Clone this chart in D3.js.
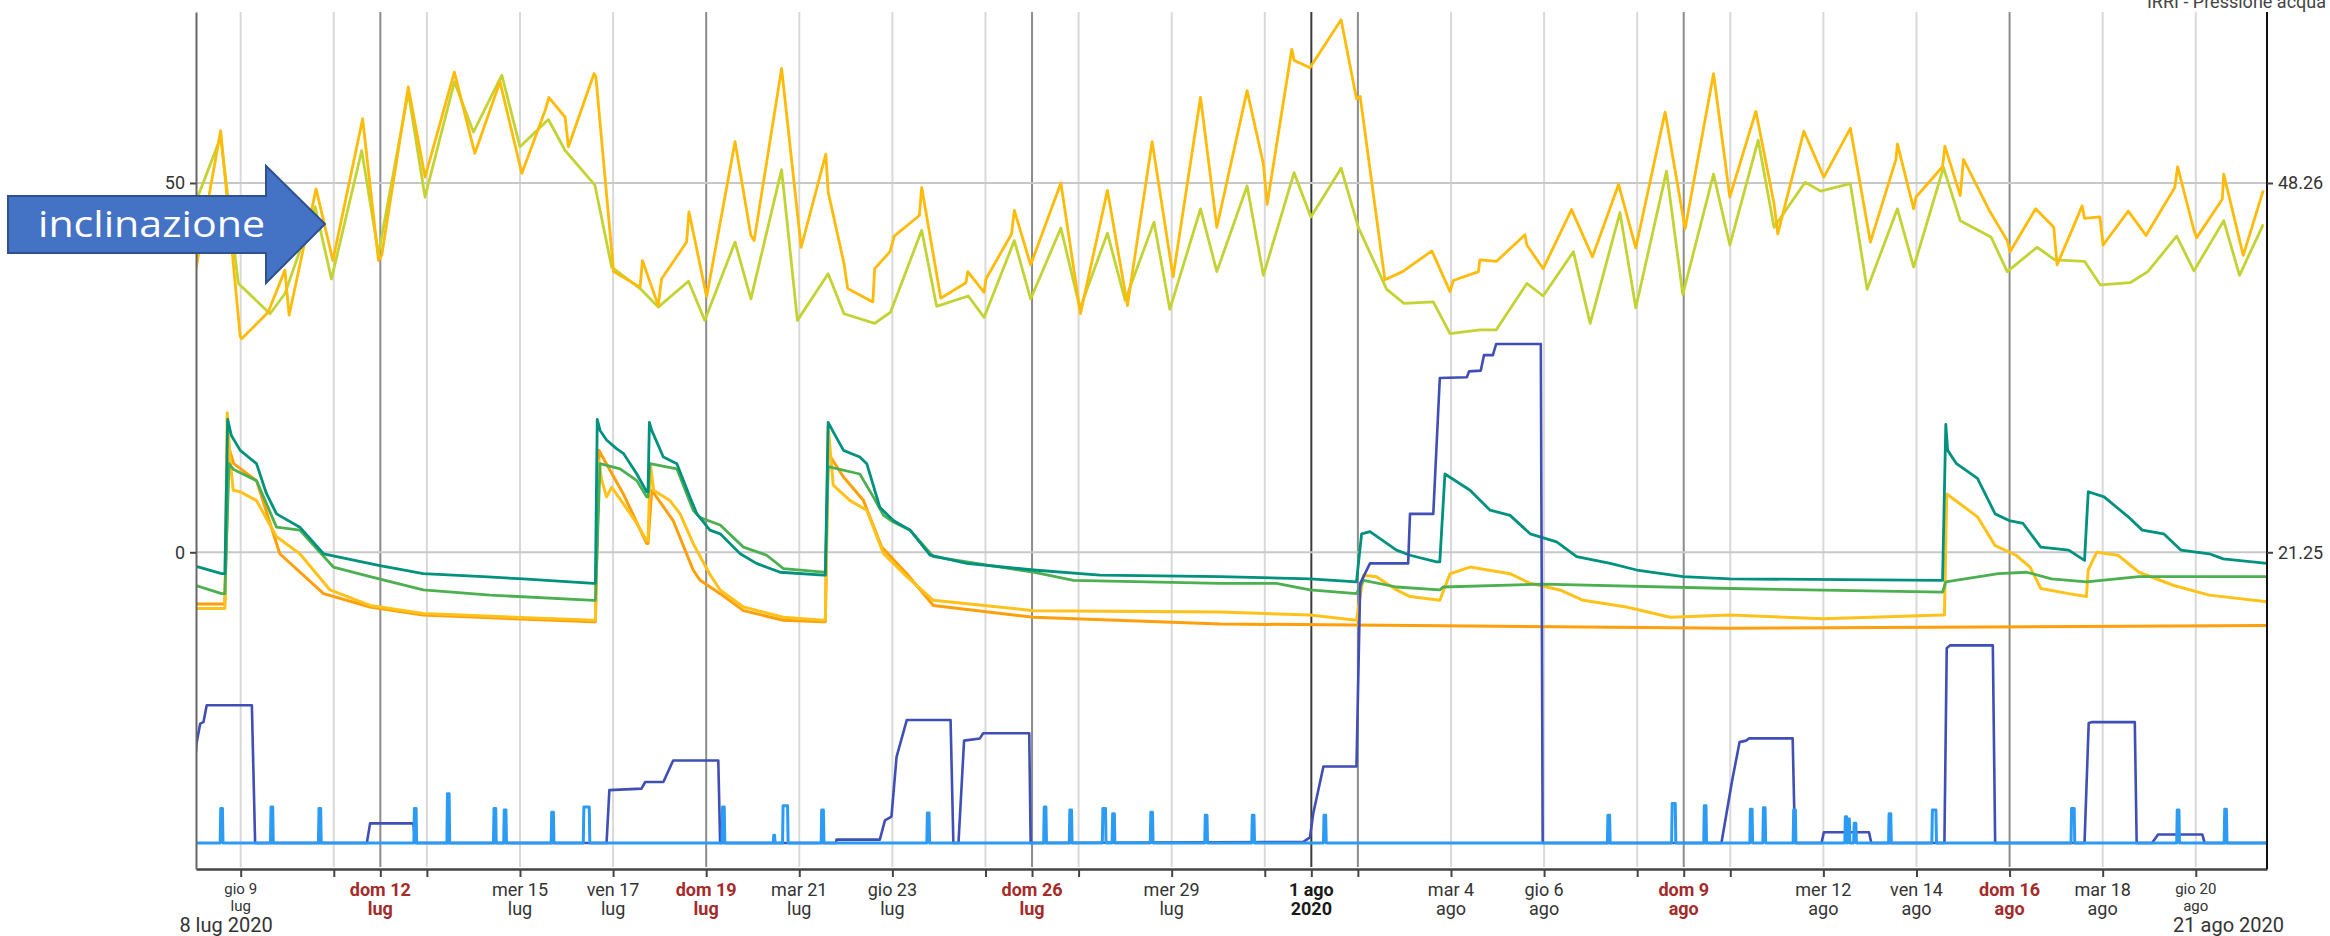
<!DOCTYPE html>
<html>
<head>
<meta charset="utf-8">
<script src="https://cdn.jsdelivr.net/npm/d3@7"></script>
<style>
  html, body { margin: 0; padding: 0; background: #fff; }
  svg { display: block; font-family: Roboto, "Noto Sans", sans-serif; }
</style>
</head>
<body>
<svg id="chart" width="2330" height="936"></svg>
<script>
/*
  IRRI - sensor trend, 8 lug - 21 ago 2020
  x values are days since 8 lug 2020 00:00, y values on the left axis scale
*/

// --- grid days and tick labels ---
const lightGridDays = ["2020-07-09", "2020-07-11", "2020-07-13", "2020-07-15", "2020-07-17", "2020-07-21",
    "2020-07-23", "2020-07-25", "2020-07-27", "2020-07-29", "2020-07-31", "2020-08-04", "2020-08-06",
    "2020-08-08", "2020-08-10", "2020-08-12", "2020-08-14", "2020-08-18", "2020-08-20"];
const sundayGridDays = ["2020-07-12", "2020-07-19", "2020-07-26", "2020-08-02", "2020-08-09", "2020-08-16"];
const monthGridDays = ["2020-08-01"];

// [day, first line, second line, kind]
const tickLabels = [
    ["2020-07-09", "gio 9", "lug", "edge"],
    ["2020-07-12", "dom 12", "lug", "sun"],
    ["2020-07-15", "mer 15", "lug", ""],
    ["2020-07-17", "ven 17", "lug", ""],
    ["2020-07-19", "dom 19", "lug", "sun"],
    ["2020-07-21", "mar 21", "lug", ""],
    ["2020-07-23", "gio 23", "lug", ""],
    ["2020-07-26", "dom 26", "lug", "sun"],
    ["2020-07-29", "mer 29", "lug", ""],
    ["2020-08-01", "1 ago", "2020", "month"],
    ["2020-08-04", "mar 4", "ago", ""],
    ["2020-08-06", "gio 6", "ago", ""],
    ["2020-08-09", "dom 9", "ago", "sun"],
    ["2020-08-12", "mer 12", "ago", ""],
    ["2020-08-14", "ven 14", "ago", ""],
    ["2020-08-16", "dom 16", "ago", "sun"],
    ["2020-08-18", "mar 18", "ago", ""],
    ["2020-08-20", "gio 20", "ago", "edge"]
];
const rangeLabels = ["8 lug 2020", "21 ago 2020"];
const leftTicks = [0, 50];
const rightTicks = [21.25, 48.26];
const chartTitle = "IRRI - Pressione acqua";
const annotationText = "inclinazione";

// --- inclinazione (two daily-sampled series) ---
const inclOrange = [
    [0.04, 38.4], [0.57, 57.1], [0.99, 29.2], [1.02, 28.9], [1.59, 32.5], [1.95, 38.2], [2.04, 32.1], [2.62, 49.2],
    [2.98, 39.5], [3.62, 58.7], [3.96, 39.5], [4.03, 40.2], [4.60, 63.0], [4.96, 50.8], [5.59, 65.0], [6.03, 54.0],
    [6.57, 63.7], [7.04, 51.3], [7.54, 59.8], [7.62, 61.6], [7.97, 58.9], [8.04, 54.9], [8.59, 64.8], [8.63, 64.4],
    [9.01, 38.0], [9.58, 35.9], [9.63, 39.5], [9.97, 33.4], [10.04, 37.0], [10.58, 42.0], [10.63, 46.1], [11.01, 34.6],
    [11.62, 55.6], [11.96, 42.9], [12.03, 42.2], [12.62, 65.5], [13.04, 41.3], [13.57, 53.9], [13.62, 48.8], [13.96, 39.1],
    [14.04, 35.7], [14.58, 33.9], [14.62, 38.4], [14.95, 40.7], [15.04, 42.8], [15.58, 45.6], [15.63, 49.4], [16.04, 34.4],
    [16.58, 36.5], [16.62, 38.0], [16.97, 35.2], [17.01, 37.0], [17.56, 43.1], [17.62, 46.3], [17.97, 38.9], [18.62, 50.0],
    [19.04, 32.3], [19.62, 49.0], [20.05, 33.4], [20.58, 55.6], [21.03, 37.3], [21.62, 61.6], [21.97, 44.0],
    [22.62, 62.5], [22.97, 52.6], [23.05, 47.1], [23.58, 68.1], [23.63, 66.6], [23.97, 65.6], [24.64, 72.1], [24.97, 61.4],
    [25.05, 61.7], [25.58, 36.9], [25.96, 38.0], [26.59, 40.8], [26.98, 35.3], [27.05, 36.8], [27.59, 38.0], [27.62, 39.6],
    [27.98, 39.4], [28.59, 43.0], [28.63, 41.6], [28.98, 38.4], [29.59, 46.4], [30.04, 40.0], [30.60, 49.8], [30.97, 41.2],
    [31.60, 59.6], [32.03, 43.8], [32.64, 64.8], [32.99, 48.1],
    [33.55, 59.7], [33.94, 47.2], [34.02, 43.1], [34.58, 57.0], [35.01, 50.8], [35.58, 57.4], [36.01, 42.0], [36.56, 53.2],
    [36.59, 55.3], [36.94, 46.5], [36.99, 48.1], [37.56, 52.2], [37.61, 55.0], [37.94, 48.3], [38.01, 53.2], [38.58, 46.1],
    [38.95, 42.2], [39.01, 40.7], [39.56, 46.5], [39.95, 44.0], [40.02, 38.9], [40.56, 46.9], [40.61, 45.2], [40.94, 45.4],
    [41.01, 41.6], [41.55, 46.2], [41.93, 42.9], [42.55, 49.4], [42.61, 52.2], [42.96, 43.6], [43.02, 42.6], [43.57, 47.8],
    [43.60, 51.2], [44.02, 40.2], [44.45, 49.0]
];
const inclGreen = [
    [0.04, 47.5], [0.57, 56.2], [0.95, 36.4], [1.63, 32.3], [1.95, 35.0], [2.60, 46.8], [2.95, 37.0], [3.60, 54.4],
    [3.96, 40.4], [4.60, 62.3], [4.96, 48.1], [5.59, 63.7], [6.00, 56.9], [6.61, 64.6], [7.00, 54.9], [7.61, 58.6],
    [7.97, 54.4], [8.61, 49.7], [8.97, 38.6], [9.58, 35.7], [9.97, 33.2], [10.62, 36.7], [10.97, 31.4],
    [11.62, 42.0], [11.96, 34.3], [12.62, 51.8], [12.96, 31.4], [13.62, 37.7], [13.96, 32.3], [14.62, 31.0], [14.96, 32.5],
    [15.63, 43.6], [15.95, 33.3], [16.63, 34.7], [16.97, 31.8], [17.62, 42.2], [17.97, 34.3], [18.62, 43.9], [19.03, 33.0],
    [19.62, 43.2], [20.00, 34.1], [20.62, 44.7], [20.96, 32.9], [21.62, 46.5], [21.97, 38.0],
    [22.62, 49.6], [22.97, 37.5], [23.63, 51.4], [23.99, 45.4], [24.64, 52.0], [25.01, 44.0], [25.62, 35.6], [25.99, 33.7],
    [26.62, 33.9], [26.98, 29.6], [27.62, 30.1], [27.97, 30.1], [28.63, 36.4], [28.98, 34.7], [29.63, 40.7], [29.99, 31.0],
    [30.63, 46.0], [30.97, 33.1], [31.63, 51.6], [31.98, 34.9], [32.64, 51.2], [32.99, 41.6],
    [33.60, 55.8], [33.94, 44.0], [34.61, 50.1], [34.94, 48.9], [35.58, 49.9], [35.94, 35.6], [36.59, 46.5], [36.94, 38.6],
    [37.58, 52.1], [37.94, 44.9], [38.60, 42.7], [38.95, 38.0], [39.59, 41.3], [39.97, 39.6], [40.61, 39.4], [40.95, 36.2],
    [41.59, 36.5], [41.97, 38.0], [42.59, 42.8], [42.96, 38.1], [43.60, 44.9], [43.94, 37.5], [44.45, 44.4]
];

// --- soil sensors ---
const sensorTeal = [
    [0.04, -1.9], [0.59, -2.9], [0.66, -2.9], [0.72, 18.0], [0.80, 15.8], [0.99, 13.8], [1.34, 12.0], [1.55, 8.0],
    [1.77, 5.2], [2.27, 3.4], [2.78, -0.2], [3.99, -1.8], [4.92, -2.9], [6.21, -3.3], [7.07, -3.6], [8.58, -4.2],
    [8.62, -4.2], [8.66, 18.0], [8.72, 16.5], [8.86, 15.2], [9.08, 14.0], [9.22, 13.4], [9.51, 10.6], [9.72, 8.2],
    [9.75, 8.2], [9.78, 17.6], [9.83, 16.5], [10.08, 12.9], [10.37, 12.0], [10.65, 7.5], [10.80, 5.2], [11.08, 3.0],
    [11.30, 2.5], [11.73, -0.2], [12.08, -1.5], [12.59, -2.7], [13.52, -3.1], [13.56, -3.1], [13.62, 17.6], [13.73, 16.3],
    [13.95, 13.8], [14.30, 12.9], [14.45, 12.0], [14.73, 6.1], [15.02, 4.3], [15.38, 3.0], [15.81, -0.4], [16.60, -1.5],
    [18.03, -2.4], [19.46, -3.1], [22.04, -3.3], [23.97, -3.6], [24.97, -4.0], [25.08, 2.5], [25.26, 2.8], [25.83, 0.3],
    [26.12, -0.4], [26.69, -1.3], [26.76, -1.3], [26.87, 10.6], [27.41, 8.4], [27.84, 5.7], [28.27, 5.0], [28.70, 2.5],
    [29.27, 1.4], [29.70, -0.6], [30.42, -1.5], [30.99, -2.4], [31.99, -3.3], [32.99, -3.6], [37.56, -3.8], [37.63, 17.3],
    [37.67, 13.8], [37.86, 12.0], [38.31, 10.0], [38.69, 5.2], [38.99, 4.3], [39.29, 3.9], [39.67, 0.7], [40.27, 0.3],
    [40.61, -1.1], [40.69, 8.2], [41.03, 7.5], [41.55, 4.8], [41.85, 3.0], [42.31, 2.5], [42.68, 0.3], [43.29, -0.2],
    [43.59, -0.9], [44.53, -1.5]
];
const sensorGreen = [
    [0.04, -4.5], [0.59, -5.6], [0.66, -5.6], [0.75, 12.0], [0.85, 11.2], [1.34, 9.7], [1.77, 3.4], [2.27, 3.0],
    [2.99, -2.0], [3.78, -3.3], [4.92, -5.1], [6.36, -5.8], [8.58, -6.5], [8.62, -6.5], [8.72, 12.0], [9.15, 11.3],
    [9.51, 9.7], [9.72, 7.5], [9.75, 7.5], [9.79, 12.0], [10.37, 11.3], [10.72, 5.7], [10.87, 4.7], [11.30, 3.7],
    [11.80, 0.7], [12.30, -0.4], [12.66, -2.2], [13.52, -2.7], [13.56, -2.7], [13.62, 11.6], [14.30, 10.6], [14.59, 7.5],
    [14.81, 5.0], [15.02, 4.1], [15.38, 3.0], [15.88, -0.6], [18.03, -2.7], [18.89, -3.8], [22.04, -4.2], [23.25, -4.2],
    [23.97, -5.1], [24.97, -5.6], [25.12, -3.8], [25.83, -4.7], [26.76, -5.1], [26.83, -4.7], [28.98, -4.3], [32.99, -4.9],
    [37.56, -5.4], [37.63, -4.0], [38.76, -2.9], [39.37, -2.7], [39.90, -3.6], [40.65, -4.0], [41.78, -3.3], [44.53, -3.3]
];
const sensorYellow = [
    [0.04, -7.6], [0.59, -7.6], [0.66, -7.6], [0.71, 18.9], [0.78, 12.0], [0.84, 8.4], [0.99, 8.2], [1.34, 7.0],
    [1.77, 2.1], [2.27, -0.2], [2.92, -5.1], [3.78, -7.2], [4.92, -8.3], [8.58, -9.2], [8.62, -9.2], [8.68, 12.5],
    [8.76, 9.7], [8.86, 7.5], [8.97, 8.8], [9.22, 6.6], [9.51, 3.9], [9.72, 1.6], [9.75, 1.6], [9.80, 12.0],
    [9.87, 8.4], [10.22, 7.0], [10.44, 5.2], [10.72, 1.2], [11.08, -3.0], [11.30, -5.1], [11.80, -7.4], [12.66, -8.8],
    [13.52, -9.2], [13.56, -9.2], [13.62, 17.0], [13.73, 9.1], [14.09, 7.0], [14.45, 5.7], [14.81, -0.2], [15.31, -3.3],
    [15.88, -6.5], [18.03, -7.9], [22.04, -8.1], [23.97, -8.5], [24.97, -9.2], [25.12, -3.1], [25.40, -3.3], [25.83, -5.1],
    [26.12, -6.0], [26.76, -6.5], [26.98, -2.9], [27.41, -2.0], [28.27, -2.9], [28.70, -4.2], [29.34, -5.1], [29.84, -6.5],
    [30.77, -7.4], [31.71, -8.8], [32.99, -8.5], [35.00, -9.0], [37.56, -8.5], [37.60, -8.5], [37.65, 7.9], [38.31, 4.8],
    [38.69, 0.9], [39.14, -0.4], [39.44, -2.0], [39.67, -4.9], [40.27, -5.6], [40.65, -6.0], [40.69, -2.4], [40.87, 0.0],
    [41.33, -0.4], [41.78, -2.7], [42.53, -4.5], [43.29, -5.8], [44.53, -6.7]
];
const sensorOrange = [
    [0.04, -7.0], [0.59, -7.0], [0.66, -7.0], [0.74, 14.3], [0.85, 12.0], [1.34, 9.7], [1.84, -0.2], [2.78, -5.6],
    [3.78, -7.4], [4.92, -8.5], [8.58, -9.4], [8.62, -9.4], [8.70, 13.8], [8.73, 13.4], [9.22, 7.9], [9.72, 1.2],
    [9.75, 1.2], [9.83, 8.4], [10.29, 4.3], [10.72, -2.4], [10.87, -3.8], [11.30, -5.6], [11.80, -7.9], [12.66, -9.2],
    [13.52, -9.4], [13.56, -9.4], [13.62, 13.4], [13.95, 10.2], [14.38, 7.0], [14.77, 0.7], [15.31, -2.9], [15.88, -7.2],
    [18.03, -8.8], [22.04, -9.7], [32.99, -10.3], [44.53, -9.9]
];

// --- irrigation volume (step line) ---
const irrigation = [
    [0.04, -27.0], [0.05, -25.9], [0.13, -23.2], [0.20, -23.0], [0.27, -20.7], [1.24, -20.7], [1.31, -39.35],
    [3.71, -39.35], [3.78, -36.7], [4.71, -36.7], [4.75, -39.35], [8.86, -39.35], [8.92, -32.2], [9.61, -32.0],
    [9.69, -31.1], [10.08, -31.1], [10.29, -28.2], [11.26, -28.2], [11.30, -39.35], [13.79, -39.35], [13.80, -38.9],
    [14.73, -38.9], [14.84, -36.3], [14.98, -35.8], [15.09, -27.7], [15.31, -22.7], [16.25, -22.7], [16.31, -39.35],
    [16.42, -39.35], [16.54, -25.5], [16.88, -25.2], [16.95, -24.5], [17.94, -24.5], [17.97, -39.35], [23.83, -39.2],
    [23.97, -38.6], [24.04, -35.4], [24.26, -29.0], [24.97, -29.0], [25.05, -4.2], [25.26, -1.5], [26.08, -1.5],
    [26.12, 5.2], [26.62, 5.2], [26.76, 23.6], [27.34, 23.7], [27.39, 24.5], [27.64, 24.6], [27.71, 26.7], [27.90, 26.7],
    [27.97, 28.2], [28.93, 28.2], [28.97, -39.35], [32.81, -39.35], [33.04, -30.9], [33.20, -25.7], [33.34, -25.5],
    [33.40, -25.2], [34.34, -25.2], [34.39, -39.35], [34.96, -39.35], [35.01, -37.9], [35.98, -37.9], [36.03, -39.35],
    [37.60, -39.35], [37.65, -13.0], [37.72, -12.6], [38.64, -12.6], [38.69, -39.35], [40.61, -39.35], [40.70, -23.1],
    [40.76, -23.0], [41.69, -23.0], [41.73, -39.35], [42.06, -39.35], [42.19, -38.2], [43.14, -38.2], [43.19, -39.35],
    [44.53, -39.35]
];

// --- pump pulses: [start day, end day, top value], baseline value ---
const pulseBase = -39.35;
const pulses = [
    [0.56, 0.62, -34.7], [1.64, 1.70, -34.5], [2.67, 2.73, -34.7], [4.72, 4.78, -34.7], [5.43, 5.49, -32.7],
    [6.43, 6.49, -34.7], [6.65, 6.71, -34.9], [7.67, 7.73, -35.2], [8.36, 8.50, -34.5], [11.34, 11.40, -34.5],
    [12.44, 12.48, -38.3], [12.64, 12.76, -34.3], [13.47, 13.53, -34.9], [15.74, 15.80, -35.3], [18.25, 18.31, -34.5],
    [18.80, 18.86, -34.9], [19.51, 19.59, -34.7], [19.72, 19.78, -35.4], [20.54, 20.60, -35.2], [21.71, 21.77, -35.6],
    [22.72, 22.78, -35.6], [24.26, 24.32, -35.6], [30.36, 30.42, -35.6], [31.74, 31.83, -34.0], [32.43, 32.49, -34.3],
    [33.42, 33.48, -34.8], [33.70, 33.76, -34.6], [34.35, 34.41, -34.9], [35.46, 35.51, -35.8], [35.52, 35.57, -36.1],
    [35.65, 35.71, -36.7], [36.40, 36.46, -35.4], [37.33, 37.43, -34.9], [40.32, 40.40, -34.7], [42.59, 42.65, -34.9],
    [43.61, 43.67, -34.8]
];


// Layout
const svg = d3.select("#chart");
const plotLeft = 196, plotRight = 2267, plotTop = 12, plotBottom = 869;

const t0 = new Date(2020, 6, 8);
const day = (d) => new Date(t0.getTime() + d * 864e5);
const parse = d3.timeParse("%Y-%m-%d");

const x = d3.scaleTime()
    .domain([day(0.04), day(44.53)])
    .range([plotLeft, plotRight]);

const y = d3.scaleLinear()
    .domain([-42.88, 73.15])
    .range([plotBottom, plotTop]);

// right axis shares pixels with the left one: 48.26 sits on 50, 21.25 on 0
const yRight = d3.scaleLinear()
    .domain([21.25, 48.26])
    .range([y(0), y(50)]);

svg.append("defs").append("clipPath").attr("id", "plot")
    .append("rect").attr("x", plotLeft).attr("y", plotTop)
    .attr("width", plotRight - plotLeft).attr("height", plotBottom - plotTop);

// vertical grid
const grid = svg.append("g");
function vlines(days, colour) {
    grid.selectAll(null)
        .data(days)
        .enter().append("line")
        .attr("x1", (d) => x(parse(d))).attr("x2", (d) => x(parse(d)))
        .attr("y1", plotTop).attr("y2", plotBottom - 2)
        .attr("stroke", colour)
        .attr("stroke-width", 2);
}
vlines(lightGridDays, "#d9d9d9");
vlines(sundayGridDays, "#8c8c8c");
vlines(monthGridDays, "#3a3a3a");

// horizontal grid
grid.selectAll(null)
    .data(leftTicks)
    .enter().append("line")
    .attr("x1", plotLeft).attr("x2", plotRight)
    .attr("y1", (d) => y(d)).attr("y2", (d) => y(d))
    .attr("stroke", "#c8c8c8")
    .attr("stroke-width", 2);

const line = d3.line()
    .x((p) => x(day(p[0])))
    .y((p) => y(p[1]));

const plot = svg.append("g").attr("clip-path", "url(#plot)");

function drawSeries(data, colour, width) {
    plot.append("path")
        .datum(data)
        .attr("d", line)
        .attr("fill", "none")
        .attr("stroke", colour)
        .attr("stroke-width", width)
        .attr("stroke-linejoin", "round");
}

drawSeries(inclGreen, "#c3d334", 2.8);
drawSeries(inclOrange, "#ffbb0a", 2.8);

drawSeries(sensorOrange, "#ff9f0a", 3);
drawSeries(sensorYellow, "#ffc21a", 3);
drawSeries(sensorGreen, "#4caf50", 2.8);
drawSeries(sensorTeal, "#00917f", 2.8);

drawSeries(irrigation, "#3f4fb5", 2.6);

// pulses become little trapezoids on the baseline
const pulsePoints = [[0.04, pulseBase]];
pulses.forEach(function(p) {
    pulsePoints.push([p[0], pulseBase], [p[0] + 0.012, p[2]], [p[1] - 0.012, p[2]], [p[1], pulseBase]);
});
pulsePoints.push([44.53, pulseBase]);
drawSeries(pulsePoints, "#2b9bf4", 3);

// axes
const tickDays = lightGridDays.concat(sundayGridDays, monthGridDays).map(parse);

const xAxis = svg.append("g")
    .attr("transform", "translate(0," + plotBottom + ")")
    .call(d3.axisBottom(x).tickValues(tickDays).tickSize(8).tickSizeOuter(0).tickFormat(""));
xAxis.select(".domain").attr("stroke", "#444").attr("stroke-width", 2.5);
xAxis.selectAll(".tick line").attr("stroke", "#444").attr("stroke-width", 2);

const yAxisL = svg.append("g")
    .attr("transform", "translate(" + plotLeft + ",0)")
    .call(d3.axisLeft(y).tickValues(leftTicks).tickSize(6).tickSizeOuter(0).tickPadding(5));
yAxisL.select(".domain").attr("stroke", "#666").attr("stroke-width", 2);
yAxisL.selectAll(".tick line").attr("stroke", "#444").attr("stroke-width", 2);
yAxisL.selectAll(".tick text").attr("font-size", 18).attr("fill", "#333")
    .attr("font-family", "Roboto, sans-serif");

const yAxisR = svg.append("g")
    .attr("transform", "translate(" + plotRight + ",0)")
    .call(d3.axisRight(yRight).tickValues(rightTicks).tickSize(6).tickSizeOuter(0).tickPadding(5)
        .tickFormat(d3.format(".2f")));
yAxisR.select(".domain").attr("d", "M0," + plotTop + "V" + plotBottom).attr("stroke", "#111").attr("stroke-width", 2);
yAxisR.selectAll(".tick line").attr("stroke", "#444").attr("stroke-width", 2);
yAxisR.selectAll(".tick text").attr("font-size", 18).attr("fill", "#333")
    .attr("font-family", "Roboto, sans-serif");

// x labels
const labels = svg.append("g").attr("text-anchor", "middle");
tickLabels.forEach(function(l) {
    const cx = x(parse(l[0]));
    const small = l[3] === "edge";
    const g = labels.append("text")
        .attr("font-size", small ? 15 : 18)
        .attr("font-weight", (l[3] === "sun" || l[3] === "month") ? "bold" : "normal")
        .attr("fill", l[3] === "sun" ? "#a52a2a" : (l[3] === "month" ? "#1a1a1a" : "#333"));
    g.append("tspan").attr("x", cx).attr("y", small ? 894 : 896).text(l[1]);
    g.append("tspan").attr("x", cx).attr("y", small ? 911 : 915).text(l[2]);
});

svg.append("text")
    .attr("x", 226).attr("y", 932)
    .attr("text-anchor", "middle")
    .attr("font-size", 20).attr("fill", "#333")
    .text(rangeLabels[0]);
svg.append("text")
    .attr("x", 2284).attr("y", 932)
    .attr("text-anchor", "end")
    .attr("font-size", 20).attr("fill", "#333")
    .text(rangeLabels[1]);

// title, sitting on the top edge as in the source
svg.append("text")
    .attr("x", 2326).attr("y", 8)
    .attr("text-anchor", "end")
    .attr("font-size", 18).attr("fill", "#444")
    .text(chartTitle);

// annotation arrow
const arrow = svg.append("g");
arrow.append("path")
    .attr("d", "M8,196 L266,196 L266,166 L325,224 L266,283 L266,253 L8,253 Z")
    .attr("fill", "#4472c4")
    .attr("stroke", "#2f528f")
    .attr("stroke-width", 2);
arrow.append("text")
    .attr("x", 38).attr("y", 237)
    .attr("font-family", "'Open Sans', 'Noto Sans', sans-serif")
    .attr("font-size", 36)
    .attr("fill", "#fff")
    .attr("textLength", 227)
    .attr("lengthAdjust", "spacingAndGlyphs")
    .text(annotationText);
</script>
</body>
</html>
